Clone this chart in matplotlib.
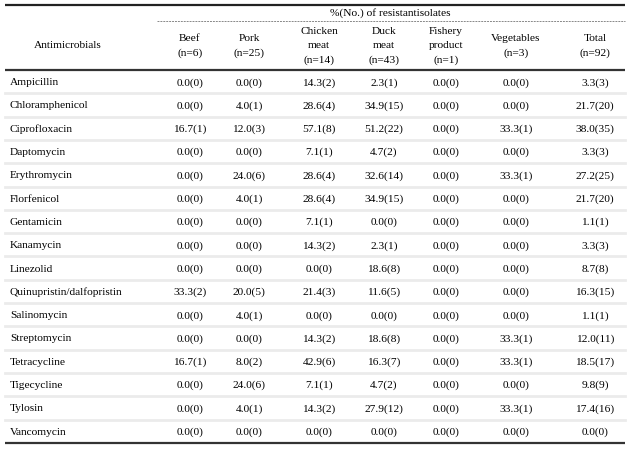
import matplotlib

matplotlib.use("Agg")
import matplotlib.pyplot as plt

TITLE = "%(No.) of resistantisolates"
ROW_HEADER = "Antimicrobials"
COLUMNS = [
    "Beef\n(n=6)",
    "Pork\n(n=25)",
    "Chicken\nmeat\n(n=14)",
    "Duck\nmeat\n(n=43)",
    "Fishery\nproduct\n(n=1)",
    "Vegetables\n(n=3)",
    "Total\n(n=92)",
]
DRUGS = [
    "Ampicillin", "Chloramphenicol", "Ciprofloxacin", "Daptomycin",
    "Erythromycin", "Florfenicol", "Gentamicin", "Kanamycin", "Linezolid",
    "Quinupristin/dalfopristin", "Salinomycin", "Streptomycin",
    "Tetracycline", "Tigecycline", "Tylosin", "Vancomycin",
]
# percent values per column (Beef, Pork, Chicken, Duck, Fishery, Vegetables, Total)
PCT = [
    [0.0, 0.0, 14.3, 2.3, 0.0, 0.0, 3.3],
    [0.0, 4.0, 28.6, 34.9, 0.0, 0.0, 21.7],
    [16.7, 12.0, 57.1, 51.2, 0.0, 33.3, 38.0],
    [0.0, 0.0, 7.1, 4.7, 0.0, 0.0, 3.3],
    [0.0, 24.0, 28.6, 32.6, 0.0, 33.3, 27.2],
    [0.0, 4.0, 28.6, 34.9, 0.0, 0.0, 21.7],
    [0.0, 0.0, 7.1, 0.0, 0.0, 0.0, 1.1],
    [0.0, 0.0, 14.3, 2.3, 0.0, 0.0, 3.3],
    [0.0, 0.0, 0.0, 18.6, 0.0, 0.0, 8.7],
    [33.3, 20.0, 21.4, 11.6, 0.0, 0.0, 16.3],
    [0.0, 4.0, 0.0, 0.0, 0.0, 0.0, 1.1],
    [0.0, 0.0, 14.3, 18.6, 0.0, 33.3, 12.0],
    [16.7, 8.0, 42.9, 16.3, 0.0, 33.3, 18.5],
    [0.0, 24.0, 7.1, 4.7, 0.0, 0.0, 9.8],
    [0.0, 4.0, 14.3, 27.9, 0.0, 33.3, 17.4],
    [0.0, 0.0, 0.0, 0.0, 0.0, 0.0, 0.0],
]
COUNTS = [
    [0, 0, 2, 1, 0, 0, 3],
    [0, 1, 4, 15, 0, 0, 20],
    [1, 3, 8, 22, 0, 1, 35],
    [0, 0, 1, 2, 0, 0, 3],
    [0, 6, 4, 14, 0, 1, 25],
    [0, 1, 4, 15, 0, 0, 20],
    [0, 0, 1, 0, 0, 0, 1],
    [0, 0, 2, 1, 0, 0, 3],
    [0, 0, 0, 8, 0, 0, 8],
    [2, 5, 3, 5, 0, 0, 15],
    [0, 1, 0, 0, 0, 0, 1],
    [0, 0, 2, 8, 0, 1, 11],
    [1, 2, 6, 7, 0, 1, 17],
    [0, 6, 1, 2, 0, 0, 9],
    [0, 1, 2, 12, 0, 1, 16],
    [0, 0, 0, 0, 0, 0, 0],
]

COL_X = [190, 249, 319, 384, 446, 516, 595]
FONT = "Liberation Serif"


def main() -> None:
    fig = plt.figure(figsize=(6.3, 4.53), dpi=100)
    ax = fig.add_axes([0, 0, 1, 1])
    ax.set_xlim(0, 630)
    ax.set_ylim(453, 0)
    ax.axis("off")

    x0, x1 = 5, 625
    top, head_bot = 5, 70
    row_h = 23.3

    ax.plot([x0, x1], [top, top], color="#222222", lw=1.6, solid_capstyle="butt")
    ax.plot([157, x1], [21, 21], color="#888888", lw=0.7, ls=(0, (2, 1)))
    ax.text(390, 13, TITLE, ha="center", va="center", fontsize=8.2, family=FONT)
    ax.text(68, 45, ROW_HEADER, ha="center", va="center", fontsize=8.2, family=FONT)
    for x, label in zip(COL_X, COLUMNS):
        ax.text(x, 46, label, ha="center", va="center", fontsize=8.2,
                family=FONT, linespacing=1.75)
    ax.plot([x0, x1], [head_bot, head_bot], color="#333333", lw=1.6,
            solid_capstyle="butt")

    for i, drug in enumerate(DRUGS):
        yc = head_bot + row_h * (i + 0.5)
        ax.text(10, yc, drug, ha="left", va="center_baseline", fontsize=8.2,
                family=FONT)
        for x, p, n in zip(COL_X, PCT[i], COUNTS[i]):
            ax.text(x, yc, f"{p:.1f}({n})", ha="center", va="center_baseline",
                    fontsize=8.2, family=FONT)
        yb = head_bot + row_h * (i + 1)
        if i < len(DRUGS) - 1:
            ax.plot([x0, x1], [yb, yb], color="#ebebeb", lw=2)
    yb = head_bot + row_h * len(DRUGS)
    ax.plot([x0, x1], [yb, yb], color="#333333", lw=1.6, solid_capstyle="butt")

    fig.savefig("out.png", dpi=100)


if __name__ == "__main__":
    main()
